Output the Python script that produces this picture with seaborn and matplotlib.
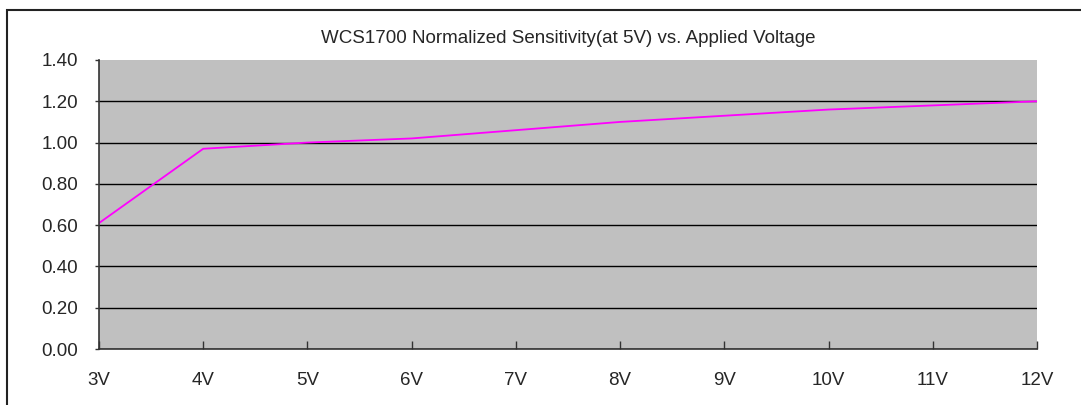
import matplotlib.pyplot as plt
import matplotlib.patches as patches
import seaborn as sns
import pandas as pd

# data
volts = [3, 4, 5, 6, 7, 8, 9, 10, 11, 12]
volt_labels = ['3V', '4V', '5V', '6V', '7V', '8V', '9V', '10V', '11V', '12V']
sensitivity = [0.61, 0.97, 1.00, 1.02, 1.06, 1.10, 1.13, 1.16, 1.18, 1.20]
y_ticks = [0.0, 0.2, 0.4, 0.6, 0.8, 1.0, 1.2, 1.4]

df = pd.DataFrame({'volt': volts, 'sens': sensitivity})

sns.set_style('white')
plt.rcParams['font.family'] = ['Liberation Sans', 'DejaVu Sans']

fig = plt.figure(figsize=(10.81, 4.05), dpi=100)
ax = fig.add_axes([99 / 1081, 1 - 349 / 405, (1037 - 99) / 1081, (349 - 60) / 405])
ax.set_facecolor('#c0c0c0')

# outer frame (only left and top edges visible in the picture)
frame = patches.Rectangle((7 / 1081, -0.5), 2, 1.5 - 10 / 405, transform=fig.transFigure,
                          fill=False, edgecolor='#222222', linewidth=1.5, clip_on=False)
fig.patches.append(frame)

sns.lineplot(data=df, x='volt', y='sens', color='#ff00ff', linewidth=1.3, ax=ax)

ax.set_xlim(3, 12)
ax.set_ylim(0, 1.4)
ax.set_xticks(volts)
ax.set_xticklabels(volt_labels)
ax.set_yticks(y_ticks)
ax.set_yticklabels([f'{v:.2f}' for v in y_ticks])
ax.set_xlabel('')
ax.set_ylabel('')

ax.grid(axis='y', color='black', linewidth=1.0)
ax.set_axisbelow(True)
# no grid line on the top edge
ax.yaxis.get_gridlines()[-1].set_visible(False)
for s in ['top', 'right']:
    ax.spines[s].set_visible(False)
for s in ['left', 'bottom']:
    ax.spines[s].set_color('#333333')
    ax.spines[s].set_linewidth(1.2)

ax.tick_params(axis='x', direction='in', length=6, width=1, color='#333333',
               labelsize=13.5, pad=16.5, bottom=True)
ax.tick_params(axis='y', direction='out', length=3, width=1, color='#333333',
               labelsize=13.5, pad=12, left=True)

ax.set_title('WCS1700 Normalized Sensitivity(at 5V) vs. Applied Voltage', fontsize=13.5, pad=12)

plt.savefig('out.png', dpi=100)
